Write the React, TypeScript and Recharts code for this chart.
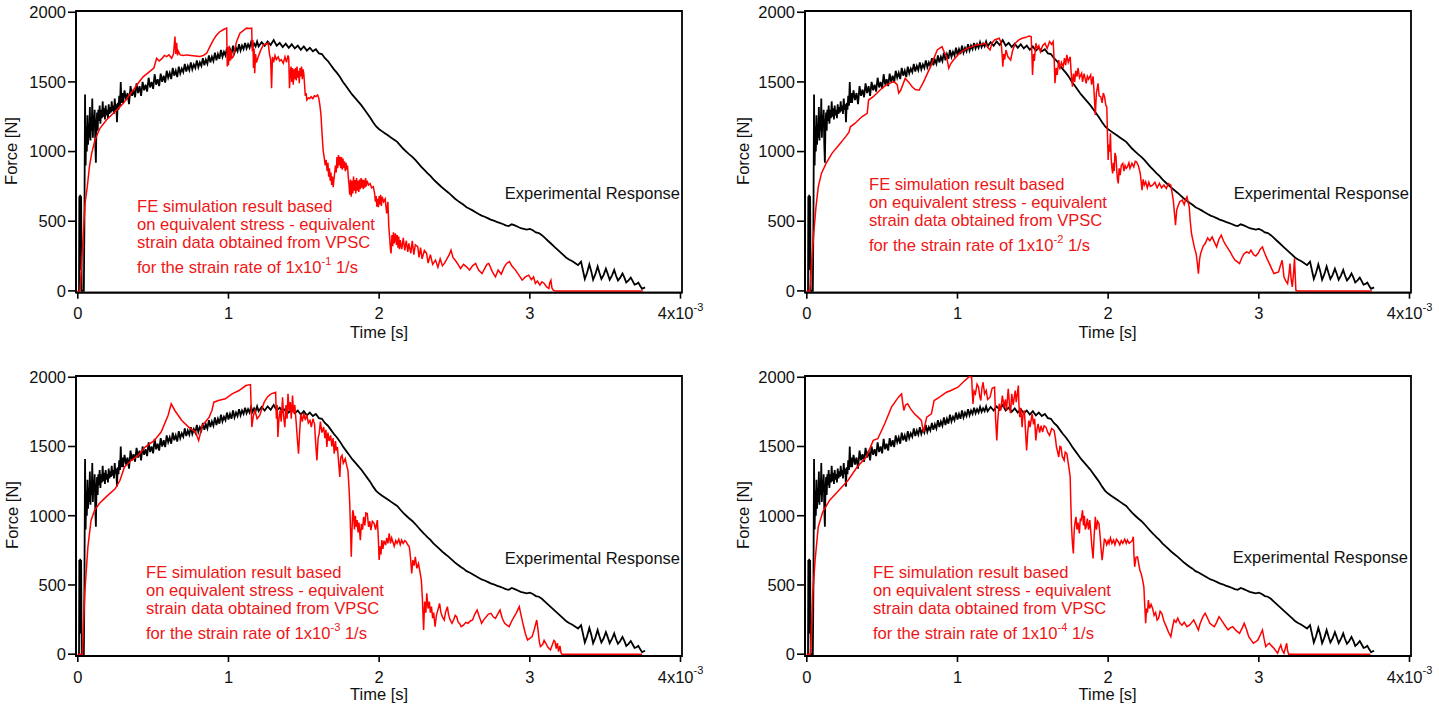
import React from 'react';
import { LineChart, Line, XAxis, YAxis, ReferenceArea } from 'recharts';

// time in 10^-3 s, force in N
const experimentalResponse: [number, number][] = [
  [0, 0], [0.008, 0], [0.01, 680], [0.013, 150], [0.016, 690], [0.019, 300], [0.022, 680], [0.026, 0], [0.04, 0],
  [0.044, 500], [0.048, 1410], [0.052, 900], [0.056, 1180], [0.06, 1000], [0.064, 1260], [0.068, 1050], [0.072, 1200],
  [0.076, 1100], [0.08, 1320], [0.084, 1080], [0.088, 1250], [0.092, 1150], [0.096, 1380], [0.1, 1100], [0.104, 1260],
  [0.108, 1180], [0.112, 1300], [0.116, 1050], [0.12, 920], [0.124, 1200], [0.128, 1280], [0.132, 1150], [0.136, 1300],
  [0.14, 1220], [0.145, 1330], [0.15, 1200], [0.155, 1300], [0.16, 1240], [0.165, 1360], [0.17, 1250], [0.175, 1310],
  [0.18, 1230], [0.185, 1330], [0.19, 1260], [0.195, 1300], [0.2, 1240], [0.205, 1340], [0.21, 1270], [0.215, 1320],
  [0.22, 1280], [0.225, 1360], [0.23, 1290], [0.235, 1330], [0.24, 1270], [0.245, 1380], [0.25, 1300], [0.255, 1340],
  [0.26, 1210], [0.265, 1350], [0.27, 1300], [0.275, 1400], [0.28, 1330], [0.285, 1500], [0.29, 1350], [0.295, 1420],
  [0.3, 1350], [0.31, 1440], [0.32, 1370], [0.33, 1420], [0.34, 1340], [0.35, 1470], [0.36, 1400], [0.37, 1445],
  [0.38, 1390], [0.39, 1490], [0.4, 1420], [0.41, 1470], [0.42, 1400], [0.43, 1500], [0.44, 1440], [0.45, 1480],
  [0.46, 1430], [0.47, 1530], [0.48, 1460], [0.49, 1500], [0.5, 1450], [0.51, 1555], [0.52, 1480], [0.53, 1520],
  [0.54, 1470], [0.55, 1560], [0.56, 1500], [0.57, 1545], [0.58, 1495], [0.59, 1580], [0.6, 1530], [0.61, 1565],
  [0.62, 1520], [0.63, 1600], [0.64, 1545], [0.65, 1580], [0.66, 1535], [0.67, 1610], [0.68, 1560], [0.69, 1595],
  [0.7, 1570], [0.71, 1630], [0.72, 1575], [0.73, 1615], [0.74, 1585], [0.75, 1640], [0.76, 1590], [0.77, 1625],
  [0.78, 1600], [0.79, 1655], [0.8, 1605], [0.81, 1640], [0.82, 1615], [0.83, 1670], [0.84, 1620], [0.85, 1660],
  [0.86, 1630], [0.87, 1690], [0.88, 1640], [0.89, 1680], [0.9, 1650], [0.91, 1710], [0.92, 1655], [0.93, 1700],
  [0.94, 1665], [0.95, 1730], [0.96, 1680], [0.97, 1715], [0.98, 1690], [0.99, 1745], [1.0, 1695], [1.01, 1735],
  [1.02, 1700], [1.03, 1760], [1.04, 1710], [1.05, 1745], [1.06, 1720], [1.07, 1770], [1.08, 1725], [1.09, 1760],
  [1.1, 1735], [1.11, 1780], [1.12, 1740], [1.13, 1770], [1.14, 1745], [1.15, 1785], [1.16, 1750], [1.17, 1775],
  [1.18, 1755], [1.19, 1790], [1.2, 1755], [1.22, 1785], [1.24, 1760], [1.26, 1790], [1.28, 1765], [1.3, 1800],
  [1.32, 1760], [1.34, 1780], [1.36, 1750], [1.38, 1775], [1.4, 1745], [1.42, 1770], [1.44, 1740], [1.46, 1760],
  [1.48, 1730], [1.5, 1755], [1.52, 1725], [1.54, 1745], [1.56, 1720], [1.58, 1735], [1.6, 1705], [1.62, 1700],
  [1.64, 1670], [1.66, 1650], [1.68, 1620], [1.7, 1590], [1.72, 1565], [1.74, 1535], [1.76, 1500], [1.78, 1470],
  [1.8, 1440], [1.82, 1410], [1.84, 1385], [1.86, 1360], [1.88, 1335], [1.9, 1305], [1.92, 1275], [1.94, 1245],
  [1.96, 1210], [1.98, 1180], [2.0, 1160], [2.02, 1145], [2.04, 1130], [2.06, 1115], [2.08, 1100], [2.1, 1085],
  [2.12, 1070], [2.14, 1045], [2.16, 1020], [2.18, 1000], [2.2, 980], [2.22, 962], [2.24, 940], [2.26, 915],
  [2.28, 890], [2.3, 868], [2.32, 845], [2.34, 825], [2.36, 800], [2.38, 780], [2.4, 760], [2.42, 740], [2.44, 722],
  [2.46, 705], [2.48, 685], [2.5, 665], [2.52, 648], [2.54, 632], [2.56, 618], [2.58, 600], [2.6, 590], [2.62, 578],
  [2.64, 565], [2.66, 552], [2.68, 540], [2.7, 532], [2.72, 522], [2.74, 512], [2.76, 505], [2.78, 495], [2.8, 488],
  [2.82, 480], [2.84, 470], [2.86, 465], [2.88, 478], [2.9, 470], [2.92, 460], [2.94, 450], [2.96, 445], [2.98, 440],
  [3.0, 445], [3.02, 435], [3.04, 420], [3.06, 415], [3.08, 400], [3.1, 380], [3.12, 360], [3.14, 340], [3.16, 320],
  [3.18, 300], [3.2, 280], [3.22, 260], [3.24, 240], [3.26, 225], [3.28, 215], [3.3, 200], [3.32, 185], [3.34, 210],
  [3.352, 150], [3.365, 85], [3.38, 130], [3.395, 190], [3.408, 140], [3.42, 80], [3.435, 120], [3.45, 175],
  [3.462, 130], [3.475, 85], [3.49, 115], [3.505, 160], [3.518, 120], [3.53, 80], [3.545, 110], [3.56, 150],
  [3.572, 110], [3.585, 75], [3.6, 95], [3.615, 125], [3.628, 95], [3.64, 60], [3.655, 75], [3.67, 95], [3.683, 70],
  [3.695, 45], [3.708, 50], [3.72, 60], [3.733, 35], [3.745, 15], [3.765, 25],
];

const feRate1e1: [number, number][] = [
  [0, 0], [0.015, 0], [0.026, 221], [0.037, 413], [0.048, 628], [0.063, 748], [0.077, 891], [0.092, 987], [0.114, 1083],
  [0.147, 1167], [0.19, 1227], [0.236, 1275], [0.27, 1310], [0.302, 1346], [0.335, 1395], [0.369, 1442], [0.4, 1490],
  [0.435, 1538], [0.46, 1560], [0.49, 1586], [0.505, 1600], [0.523, 1670], [0.54, 1650], [0.556, 1665], [0.575, 1690],
  [0.59, 1682], [0.605, 1695], [0.623, 1670], [0.635, 1700], [0.645, 1826], [0.65, 1700], [0.656, 1780], [0.662, 1690],
  [0.667, 1720], [0.68, 1694], [0.7, 1690], [0.722, 1694], [0.75, 1690], [0.78, 1686], [0.811, 1682], [0.835, 1690],
  [0.855, 1706], [0.88, 1760], [0.9, 1802], [0.92, 1835], [0.944, 1862], [0.97, 1878], [0.988, 1886], [0.992, 1610],
  [0.996, 1750], [1.0, 1620], [1.005, 1760], [1.01, 1650], [1.016, 1730], [1.022, 1670], [1.032, 1682], [1.043, 1740],
  [1.054, 1790], [1.076, 1850], [1.1, 1870], [1.12, 1886], [1.14, 1884], [1.154, 1886], [1.158, 1720], [1.162, 1800],
  [1.166, 1600], [1.17, 1740], [1.174, 1562], [1.18, 1700], [1.186, 1640], [1.198, 1682], [1.215, 1730], [1.231, 1766],
  [1.25, 1772], [1.264, 1778], [1.272, 1700], [1.28, 1658], [1.286, 1454], [1.292, 1680], [1.3, 1640], [1.309, 1690],
  [1.318, 1660], [1.33, 1680], [1.34, 1650], [1.35, 1660], [1.364, 1634], [1.375, 1680], [1.385, 1640], [1.395, 1690],
  [1.4, 1670], [1.405, 1454], [1.41, 1560], [1.415, 1610], [1.42, 1500], [1.425, 1600], [1.43, 1480], [1.435, 1590],
  [1.44, 1520], [1.445, 1600], [1.45, 1510], [1.455, 1610], [1.46, 1530], [1.465, 1580], [1.47, 1490], [1.475, 1600],
  [1.48, 1540], [1.485, 1610], [1.49, 1520], [1.495, 1590], [1.5, 1560], [1.505, 1480], [1.51, 1400], [1.515, 1420],
  [1.52, 1370], [1.53, 1385], [1.54, 1380], [1.548, 1394], [1.56, 1380], [1.57, 1400], [1.58, 1395], [1.592, 1406],
  [1.6, 1380], [1.607, 1330], [1.613, 1274], [1.62, 1150], [1.628, 1011], [1.635, 960], [1.642, 900], [1.648, 940],
  [1.655, 860], [1.66, 920], [1.665, 820], [1.67, 880], [1.675, 790], [1.68, 850], [1.685, 760], [1.69, 820],
  [1.695, 745], [1.7, 800], [1.705, 850], [1.71, 900], [1.715, 850], [1.72, 960], [1.725, 880], [1.73, 975],
  [1.735, 900], [1.74, 963], [1.745, 880], [1.75, 960], [1.755, 870], [1.76, 950], [1.765, 880], [1.77, 930],
  [1.775, 860], [1.78, 920], [1.785, 870], [1.79, 900], [1.795, 820], [1.8, 760], [1.805, 690], [1.81, 800],
  [1.815, 676], [1.82, 790], [1.825, 700], [1.83, 820], [1.835, 720], [1.84, 796], [1.845, 700], [1.85, 810],
  [1.855, 720], [1.86, 790], [1.865, 710], [1.87, 800], [1.875, 730], [1.88, 810], [1.885, 740], [1.89, 800],
  [1.895, 730], [1.9, 796], [1.905, 740], [1.91, 810], [1.915, 750], [1.92, 790], [1.93, 760], [1.94, 770],
  [1.95, 740], [1.961, 748], [1.97, 700], [1.975, 640], [1.98, 680], [1.985, 604], [1.99, 660], [1.995, 600],
  [2.0, 680], [2.005, 620], [2.01, 690], [2.015, 610], [2.02, 676], [2.03, 640], [2.04, 660], [2.05, 556],
  [2.058, 640], [2.064, 460], [2.07, 380], [2.075, 300], [2.079, 269], [2.085, 400], [2.09, 320], [2.095, 420],
  [2.1, 340], [2.108, 413], [2.115, 330], [2.12, 400], [2.125, 310], [2.13, 390], [2.135, 300], [2.14, 365],
  [2.15, 300], [2.16, 380], [2.17, 290], [2.18, 360], [2.19, 280], [2.197, 341], [2.21, 270], [2.22, 360],
  [2.23, 260], [2.24, 330], [2.256, 317], [2.265, 240], [2.275, 310], [2.285, 230], [2.3, 290], [2.315, 269],
  [2.325, 200], [2.34, 260], [2.355, 190], [2.374, 221], [2.39, 170], [2.405, 230], [2.42, 180], [2.433, 197],
  [2.45, 230], [2.465, 260], [2.477, 293], [2.49, 240], [2.505, 220], [2.52, 197], [2.54, 160], [2.56, 190],
  [2.58, 173], [2.6, 150], [2.62, 180], [2.64, 197], [2.66, 150], [2.683, 125], [2.7, 160], [2.715, 190],
  [2.728, 197], [2.75, 140], [2.772, 101], [2.79, 150], [2.81, 120], [2.83, 170], [2.846, 197], [2.865, 210],
  [2.88, 180], [2.905, 149], [2.93, 110], [2.949, 77], [2.97, 100], [2.993, 113], [3.01, 80], [3.025, 100],
  [3.037, 53], [3.05, 70], [3.067, 41], [3.08, 65], [3.096, 53], [3.11, 30], [3.126, 17], [3.133, 60], [3.14, 77],
  [3.147, 20], [3.155, 5], [3.17, 0], [3.75, 0],
];

const feRate1e2: [number, number][] = [
  [0, 0], [0.02, 0], [0.03, 172], [0.046, 412], [0.061, 604], [0.076, 747], [0.097, 843], [0.128, 915], [0.167, 987],
  [0.213, 1047], [0.258, 1107], [0.28, 1140], [0.289, 1178], [0.319, 1202], [0.365, 1250], [0.401, 1274], [0.41, 1370],
  [0.441, 1394], [0.486, 1442], [0.517, 1470], [0.55, 1490], [0.578, 1502], [0.6, 1480], [0.61, 1420], [0.623, 1440],
  [0.653, 1525], [0.675, 1500], [0.699, 1465], [0.72, 1445], [0.745, 1440], [0.775, 1500], [0.821, 1610], [0.866, 1730],
  [0.897, 1753], [0.91, 1720], [0.927, 1680], [0.935, 1640], [0.942, 1598], [0.955, 1630], [0.973, 1657], [1.003, 1694],
  [1.03, 1720], [1.064, 1741], [1.1, 1755], [1.125, 1765], [1.16, 1770], [1.185, 1777], [1.2, 1750], [1.216, 1729],
  [1.23, 1780], [1.246, 1801], [1.277, 1813], [1.29, 1780], [1.296, 1700], [1.301, 1610], [1.307, 1700], [1.313, 1660],
  [1.322, 1729], [1.335, 1680], [1.353, 1657], [1.365, 1720], [1.383, 1777], [1.405, 1800], [1.429, 1813], [1.455, 1820],
  [1.474, 1830], [1.489, 1825], [1.494, 1700], [1.498, 1550], [1.505, 1700], [1.51, 1650], [1.52, 1777], [1.53, 1740],
  [1.54, 1760], [1.55, 1717], [1.565, 1760], [1.581, 1777], [1.595, 1740], [1.611, 1789], [1.625, 1770], [1.635, 1789],
  [1.642, 1650], [1.647, 1490], [1.655, 1600], [1.662, 1550], [1.672, 1657], [1.68, 1590], [1.69, 1640], [1.702, 1610],
  [1.71, 1670], [1.718, 1620], [1.726, 1694], [1.735, 1640], [1.748, 1680], [1.755, 1560], [1.763, 1466], [1.77, 1560],
  [1.778, 1500], [1.785, 1580], [1.793, 1538], [1.8, 1600], [1.81, 1530], [1.824, 1562], [1.83, 1500], [1.84, 1560],
  [1.854, 1490], [1.862, 1540], [1.87, 1520], [1.884, 1550], [1.89, 1480], [1.9, 1540], [1.908, 1400], [1.915, 1262],
  [1.922, 1420], [1.933, 1490], [1.94, 1400], [1.951, 1394], [1.96, 1350], [1.968, 1420], [1.976, 1394], [1.985, 1330],
  [1.991, 1322], [1.996, 1100], [2.0, 939], [2.005, 1050], [2.01, 1000], [2.015, 1131], [2.02, 950], [2.025, 880],
  [2.03, 843], [2.035, 920], [2.04, 860], [2.045, 990], [2.052, 963], [2.058, 850], [2.062, 800], [2.067, 771],
  [2.073, 880], [2.08, 830], [2.087, 900], [2.097, 915], [2.105, 860], [2.112, 900], [2.12, 880], [2.128, 891],
  [2.138, 920], [2.145, 880], [2.158, 915], [2.17, 890], [2.18, 930], [2.188, 927], [2.2, 900], [2.207, 870],
  [2.213, 843], [2.225, 723], [2.232, 800], [2.24, 760], [2.249, 783], [2.26, 740], [2.27, 780], [2.28, 750],
  [2.295, 759], [2.31, 780], [2.325, 740], [2.34, 771], [2.355, 740], [2.37, 760], [2.386, 735], [2.4, 770],
  [2.416, 759], [2.425, 700], [2.432, 651], [2.44, 560], [2.447, 472], [2.455, 580], [2.462, 604], [2.475, 640],
  [2.492, 651], [2.505, 620], [2.515, 660], [2.523, 675], [2.53, 640], [2.538, 604], [2.545, 500], [2.553, 412],
  [2.565, 350], [2.575, 300], [2.584, 268], [2.592, 200], [2.599, 124], [2.607, 230], [2.614, 268], [2.63, 320],
  [2.644, 340], [2.66, 380], [2.675, 360], [2.69, 388], [2.705, 350], [2.72, 316], [2.735, 370], [2.751, 400],
  [2.765, 360], [2.78, 330], [2.796, 304], [2.81, 280], [2.825, 250], [2.842, 220], [2.856, 210], [2.872, 196],
  [2.888, 240], [2.903, 268], [2.92, 280], [2.935, 270], [2.948, 292], [2.965, 260], [2.98, 250], [2.994, 268],
  [3.01, 300], [3.024, 316], [3.032, 290], [3.04, 268], [3.055, 230], [3.07, 196], [3.085, 160], [3.1, 124],
  [3.115, 130], [3.131, 136], [3.143, 180], [3.155, 220], [3.161, 160], [3.167, 100], [3.18, 70], [3.191, 52],
  [3.2, 120], [3.207, 196], [3.214, 90], [3.222, 29], [3.23, 120], [3.237, 232], [3.242, 100], [3.246, 5],
  [3.258, 0], [3.75, 0],
];

const feRate1e3: [number, number][] = [
  [0, 0], [0.03, 0], [0.046, 439], [0.067, 775], [0.088, 968], [0.112, 1040], [0.143, 1088], [0.188, 1136], [0.249, 1196],
  [0.28, 1256], [0.31, 1352], [0.356, 1400], [0.401, 1436], [0.447, 1496], [0.508, 1544], [0.553, 1604], [0.599, 1724],
  [0.62, 1808], [0.644, 1760], [0.69, 1688], [0.736, 1640], [0.781, 1604], [0.802, 1544], [0.815, 1600], [0.827, 1652],
  [0.872, 1712], [0.89, 1760], [0.903, 1820], [0.933, 1832], [0.979, 1844], [1.024, 1880], [1.07, 1904], [1.116, 1940],
  [1.146, 1947], [1.15, 1800], [1.155, 1640], [1.165, 1720], [1.176, 1760], [1.19, 1700], [1.207, 1724], [1.237, 1820],
  [1.26, 1860], [1.283, 1880], [1.313, 1892], [1.318, 1700], [1.323, 1800], [1.328, 1568], [1.335, 1700], [1.343, 1760],
  [1.35, 1680], [1.359, 1856], [1.366, 1720], [1.374, 1640], [1.382, 1800], [1.389, 1700], [1.395, 1880], [1.402, 1760],
  [1.41, 1820], [1.417, 1700], [1.425, 1868], [1.432, 1740], [1.44, 1800], [1.45, 1664], [1.458, 1540], [1.465, 1448],
  [1.472, 1600], [1.48, 1736], [1.49, 1680], [1.5, 1740], [1.51, 1690], [1.52, 1730], [1.53, 1670], [1.541, 1688],
  [1.55, 1640], [1.56, 1700], [1.571, 1664], [1.579, 1520], [1.587, 1400], [1.595, 1560], [1.602, 1592], [1.61, 1680],
  [1.62, 1600], [1.632, 1640], [1.64, 1560], [1.647, 1620], [1.653, 1496], [1.66, 1600], [1.668, 1540], [1.678, 1580],
  [1.686, 1500], [1.694, 1560], [1.702, 1448], [1.71, 1540], [1.716, 1470], [1.723, 1496], [1.73, 1400], [1.739, 1280],
  [1.745, 1420], [1.754, 1436], [1.762, 1380], [1.775, 1412], [1.785, 1360], [1.793, 1328], [1.8, 1200], [1.805, 1088],
  [1.81, 900], [1.815, 703], [1.82, 900], [1.825, 1040], [1.83, 1016], [1.836, 900], [1.842, 1000], [1.848, 920],
  [1.854, 968], [1.86, 880], [1.866, 950], [1.875, 824], [1.882, 940], [1.89, 900], [1.897, 992], [1.905, 930],
  [1.912, 1020], [1.921, 1016], [1.93, 920], [1.938, 960], [1.945, 896], [1.955, 960], [1.967, 944], [1.976, 900],
  [1.988, 968], [1.994, 850], [2.0, 680], [2.007, 780], [2.012, 720], [2.018, 824], [2.025, 760], [2.032, 820],
  [2.043, 788], [2.05, 840], [2.058, 800], [2.067, 872], [2.075, 800], [2.083, 840], [2.091, 812], [2.1, 780],
  [2.11, 820], [2.119, 800], [2.13, 830], [2.14, 790], [2.149, 824], [2.16, 800], [2.17, 820], [2.179, 812],
  [2.19, 790], [2.2, 776], [2.208, 700], [2.216, 583], [2.224, 680], [2.232, 640], [2.24, 703], [2.25, 620],
  [2.261, 655], [2.27, 600], [2.28, 535], [2.287, 400], [2.295, 175], [2.302, 380], [2.31, 300], [2.316, 439],
  [2.325, 330], [2.333, 380], [2.34, 300], [2.347, 343], [2.355, 260], [2.362, 300], [2.371, 199], [2.38, 280],
  [2.39, 320], [2.401, 367], [2.41, 300], [2.42, 270], [2.432, 247], [2.44, 300], [2.453, 343], [2.46, 290],
  [2.47, 250], [2.483, 223], [2.495, 250], [2.505, 280], [2.514, 271], [2.525, 230], [2.535, 220], [2.544, 199],
  [2.56, 210], [2.575, 230], [2.59, 223], [2.605, 240], [2.62, 247], [2.635, 290], [2.65, 319], [2.665, 270],
  [2.68, 223], [2.695, 250], [2.711, 271], [2.725, 290], [2.742, 295], [2.757, 270], [2.772, 259], [2.787, 290],
  [2.802, 319], [2.817, 260], [2.833, 223], [2.848, 210], [2.863, 199], [2.88, 240], [2.895, 270], [2.909, 295],
  [2.92, 320], [2.93, 343], [2.942, 280], [2.954, 223], [2.97, 150], [2.985, 103], [3.0, 115], [3.015, 127],
  [3.03, 180], [3.046, 247], [3.055, 170], [3.063, 90], [3.07, 55], [3.085, 70], [3.095, 100], [3.106, 79],
  [3.12, 50], [3.137, 31], [3.15, 70], [3.16, 100], [3.167, 91], [3.175, 40], [3.183, 80], [3.191, 19], [3.2, 60],
  [3.207, 10], [3.213, 0], [3.745, 0],
];

const feRate1e4: [number, number][] = [
  [0, 0], [0.024, 0], [0.04, 439], [0.055, 679], [0.076, 920], [0.106, 1028], [0.152, 1112], [0.213, 1184], [0.274, 1256],
  [0.334, 1352], [0.395, 1424], [0.441, 1544], [0.471, 1556], [0.517, 1664], [0.562, 1784], [0.608, 1856], [0.629, 1880],
  [0.636, 1820], [0.644, 1760], [0.655, 1800], [0.669, 1808], [0.69, 1770], [0.714, 1736], [0.74, 1710], [0.76, 1688],
  [0.768, 1640], [0.775, 1604], [0.785, 1660], [0.796, 1712], [0.827, 1736], [0.845, 1832], [0.881, 1856], [0.927, 1892],
  [0.957, 1904], [1.003, 1928], [1.049, 1976], [1.079, 2005], [1.094, 2000], [1.098, 1900], [1.103, 1808], [1.11, 1900],
  [1.119, 1880], [1.13, 1950], [1.14, 1928], [1.148, 1860], [1.155, 1832], [1.162, 1920], [1.17, 1964], [1.18, 1880],
  [1.191, 1904], [1.2, 1840], [1.216, 1856], [1.23, 1920], [1.246, 1928], [1.253, 1700], [1.261, 1544], [1.268, 1700],
  [1.277, 1808], [1.287, 1760], [1.298, 1868], [1.31, 1780], [1.318, 1840], [1.325, 1760], [1.337, 1916], [1.345, 1800],
  [1.352, 1740], [1.36, 1880], [1.37, 1800], [1.383, 1904], [1.39, 1820], [1.404, 1940], [1.408, 1800], [1.413, 1712],
  [1.42, 1780], [1.429, 1640], [1.436, 1740], [1.444, 1760], [1.45, 1640], [1.454, 1560], [1.459, 1472], [1.466, 1600],
  [1.474, 1688], [1.482, 1640], [1.495, 1736], [1.505, 1660], [1.512, 1700], [1.52, 1544], [1.527, 1620], [1.535, 1664],
  [1.545, 1600], [1.555, 1650], [1.565, 1604], [1.575, 1650], [1.587, 1640], [1.6, 1600], [1.611, 1580], [1.625, 1630],
  [1.641, 1616], [1.65, 1560], [1.657, 1496], [1.665, 1460], [1.672, 1424], [1.68, 1500], [1.687, 1496], [1.695, 1430],
  [1.708, 1400], [1.715, 1460], [1.726, 1448], [1.735, 1380], [1.742, 1330], [1.748, 1280], [1.752, 1100], [1.757, 920],
  [1.763, 800], [1.769, 728], [1.775, 900], [1.781, 960], [1.787, 992], [1.793, 900], [1.8, 950], [1.809, 872],
  [1.815, 980], [1.82, 960], [1.83, 1040], [1.836, 930], [1.842, 1000], [1.848, 900], [1.854, 920], [1.862, 980],
  [1.87, 900], [1.878, 968], [1.885, 880], [1.892, 780], [1.9, 691], [1.907, 850], [1.915, 992], [1.922, 900],
  [1.93, 960], [1.939, 944], [1.946, 860], [1.953, 760], [1.96, 679], [1.968, 760], [1.975, 830], [1.982, 824],
  [1.99, 790], [2.0, 820], [2.006, 800], [2.015, 840], [2.025, 800], [2.036, 824], [2.045, 790], [2.055, 830],
  [2.067, 812], [2.077, 790], [2.087, 820], [2.097, 800], [2.11, 830], [2.12, 800], [2.128, 824], [2.14, 800],
  [2.152, 812], [2.16, 820], [2.167, 848], [2.171, 720], [2.176, 631], [2.185, 700], [2.195, 703], [2.205, 640],
  [2.212, 600], [2.219, 583], [2.228, 540], [2.237, 487], [2.243, 350], [2.249, 223], [2.255, 330], [2.261, 300],
  [2.267, 391], [2.275, 330], [2.285, 360], [2.295, 331], [2.305, 280], [2.315, 300], [2.325, 247], [2.335, 260],
  [2.345, 310], [2.356, 295], [2.37, 240], [2.386, 199], [2.4, 160], [2.416, 127], [2.428, 200], [2.438, 247],
  [2.45, 230], [2.462, 260], [2.477, 223], [2.49, 210], [2.505, 230], [2.523, 199], [2.54, 210], [2.555, 230],
  [2.568, 247], [2.58, 220], [2.599, 175], [2.61, 220], [2.629, 271], [2.644, 295], [2.66, 260], [2.675, 223],
  [2.69, 210], [2.705, 199], [2.72, 230], [2.736, 271], [2.75, 250], [2.766, 223], [2.78, 200], [2.796, 175],
  [2.81, 190], [2.827, 199], [2.85, 170], [2.872, 151], [2.89, 190], [2.903, 223], [2.918, 180], [2.933, 127],
  [2.95, 100], [2.964, 79], [2.98, 90], [2.994, 103], [3.01, 140], [3.024, 175], [3.035, 110], [3.046, 55],
  [3.058, 70], [3.07, 79], [3.085, 60], [3.1, 43], [3.112, 25], [3.125, 7], [3.135, 40], [3.146, 67], [3.155, 30],
  [3.167, 7], [3.175, 40], [3.185, 79], [3.19, 30], [3.198, 0], [3.74, 0],
];

const timeTicks = [0, 1, 2, 3, 4];
const forceTicks = [0, 500, 1000, 1500, 2000];
const rateExponents = ['-1', '-2', '-3', '-4'];
const noteLines = [
  'FE simulation result based',
  'on equivalent stress - equivalent',
  'strain data obtained from VPSC',
];

const FONT = '"Liberation Sans", Arial, Helvetica, sans-serif';
const RED = '#ff0000';
const TEXT_RED = '#ee1616';
const X_DOMAIN: [number, number] = [-0.012, 4.01];
const Y_DOMAIN: [number, number] = [-13, 2009];

const toRows = (pairs: [number, number][]) => pairs.map(([t, f]) => ({ t, f }));

// page layout of the four panels
const panels = [
  { left: 0, top: 0, height: 360, plotH: 281.7, sim: feRate1e1, noteX: 137, noteY: 212, expX: 680, expY: 199, forceX: 17, forceY: 151, timeY: 338 },
  { left: 728.5, top: 0, height: 360, plotH: 281.7, sim: feRate1e2, noteX: 869, noteY: 190, expX: 1409, expY: 199, forceX: 749, forceY: 151, timeY: 338 },
  { left: 0, top: 364.5, height: 346, plotH: 280, sim: feRate1e3, noteX: 146, noteY: 578, expX: 680, expY: 563.5, forceX: 18, forceY: 515, timeY: 700 },
  { left: 728.5, top: 364.5, height: 346, plotH: 280, sim: feRate1e4, noteX: 873, noteY: 578, expX: 1408, expY: 563, forceX: 749, forceY: 515, timeY: 700 },
];

const TimeTick = (props: any) => {
  const { x, y, payload } = props;
  const v = payload.value;
  return (
    <text x={x} y={y} dy="0.71em" textAnchor="middle" fontSize={16.5} fill="#111" fontFamily={FONT}>
      {v === 4 ? (
        <>
          4x10<tspan dy={-8.5} fontSize={11}>-3</tspan>
        </>
      ) : (
        String(v)
      )}
    </text>
  );
};

function Panel({ p }: { p: (typeof panels)[number] }) {
  const expRows = toRows(experimentalResponse);
  const simRows = toRows(p.sim);
  return (
    <div style={{ position: 'absolute', left: p.left, top: p.top }}>
      <LineChart
        width={710}
        height={p.height}
        margin={{ top: 11, right: 28, bottom: p.height - 11 - p.plotH - 50, left: 0 }}
      >
        <XAxis
          dataKey="t"
          type="number"
          domain={X_DOMAIN}
          ticks={timeTicks}
          interval={0}
          allowDataOverflow
          height={50}
          tickSize={6}
          tickMargin={9}
          axisLine={{ stroke: '#000', strokeWidth: 1.8 }}
          tickLine={{ stroke: '#000', strokeWidth: 1.6 }}
          tick={(tp: any) => <TimeTick {...tp} />}
        />
        <YAxis
          type="number"
          domain={Y_DOMAIN}
          ticks={forceTicks}
          interval={0}
          allowDataOverflow
          width={76}
          tickSize={8}
          tickMargin={2}
          axisLine={{ stroke: '#000', strokeWidth: 1.8 }}
          tickLine={{ stroke: '#000', strokeWidth: 1.6 }}
          tick={{ fontSize: 16.5, fill: '#111', fontFamily: FONT }}
        />
        <ReferenceArea
          x1={X_DOMAIN[0]}
          x2={X_DOMAIN[1]}
          y1={Y_DOMAIN[0]}
          y2={Y_DOMAIN[1]}
          fill="none"
          fillOpacity={0}
          stroke="#000"
          strokeWidth={1.8}
          ifOverflow="visible"
        />
        <Line
          data={expRows}
          dataKey="f"
          type="linear"
          stroke="#000"
          strokeWidth={1.8}
          dot={false}
          activeDot={false}
          isAnimationActive={false}
        />
        <Line
          data={simRows}
          dataKey="f"
          type="linear"
          stroke={RED}
          strokeWidth={1.5}
          dot={false}
          activeDot={false}
          isAnimationActive={false}
        />
      </LineChart>
    </div>
  );
}

export default function App() {
  return (
    <div style={{ position: 'absolute', left: 0, top: 0, width: 1439, height: 711, background: '#fff', overflow: 'hidden' }}>
      {panels.map((p, i) => (
        <Panel key={i} p={p} />
      ))}
      <svg
        width={1439}
        height={711}
        style={{ position: 'absolute', left: 0, top: 0, pointerEvents: 'none' }}
        fontFamily={FONT}
      >
        {panels.map((p, i) => (
          <g key={i}>
            <text
              x={p.forceX}
              y={p.forceY}
              transform={`rotate(-90 ${p.forceX} ${p.forceY})`}
              textAnchor="middle"
              fontSize={16.5}
              fill="#111"
            >
              Force [N]
            </text>
            <text x={p.left + 76 + 0.012 * 150.67 + 2 * 150.67} y={p.timeY} textAnchor="middle" fontSize={16.5} fill="#111">
              Time [s]
            </text>
            <text x={p.expX} y={p.expY} textAnchor="end" fontSize={16.5} fill="#111">
              Experimental Response
            </text>
            {noteLines.map((line, j) => (
              <text key={j} x={p.noteX} y={p.noteY + j * 18} fontSize={16.6} fill={TEXT_RED}>
                {line}
              </text>
            ))}
            <text x={p.noteX} y={p.noteY + 61} fontSize={16.6} fill={TEXT_RED}>
              for the strain rate of 1x10
              <tspan dy={-8} fontSize={11}>
                {rateExponents[i]}
              </tspan>
              <tspan dy={8}> 1/s</tspan>
            </text>
          </g>
        ))}
      </svg>
    </div>
  );
}
